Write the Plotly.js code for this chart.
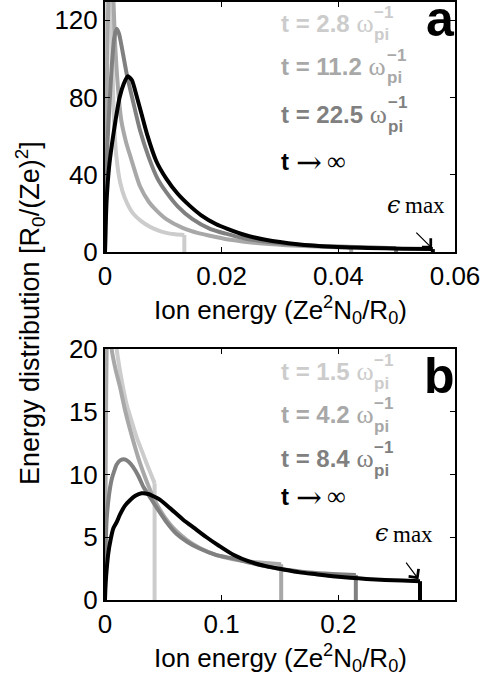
<!DOCTYPE html>
<html>
<head>
<meta charset="utf-8">
<script src="https://cdn.plot.ly/plotly-3.0.1.min.js"></script>
<style>
  html, body { margin: 0; padding: 0; background: #fff; }
  #chart { width: 483px; height: 688px; }
</style>
</head>
<body>
<div id="chart"></div>
<script>
// ---- Panel a: energy spectra at successive times (energy in Ze^2 N0 / R0) ----
const aTimes = ['t = 2.8', 't = 11.2', 't = 22.5'];
const aX1 = [0, 0.0002, 0.0004, 0.0007, 0.0010, 0.0013, 0.0016, 0.0020, 0.0026, 0.0034, 0.0048, 0.0062, 0.0077, 0.0091, 0.0105, 0.0120, 0.0136, 0.0136];
const aY1 = [0, 70, 140, 175, 150, 95, 64, 48, 36, 28, 20, 16, 13.1, 11.2, 9.9, 9.2, 8.8, 0];
const aX2 = [0, 0.0002, 0.0005, 0.0009, 0.0013, 0.0017, 0.0022, 0.0028, 0.0036, 0.0044, 0.0060, 0.0075, 0.0088, 0.0105, 0.0133, 0.0160, 0.0190, 0.0215, 0.0260, 0.0310, 0.0370, 0.0422, 0.0422];
const aY2 = [0, 60, 120, 150, 140, 110, 86, 68, 57, 49, 34, 26, 21.5, 17, 12.5, 9.8, 7.8, 6.3, 4.6, 3.5, 2.7, 2.2, 0];
const aX3 = [0, 0.0001, 0.0004, 0.0008, 0.0012, 0.0016, 0.0020, 0.0024, 0.0030, 0.0038, 0.0048, 0.0060, 0.0075, 0.0090, 0.0105, 0.0125, 0.0150, 0.0180, 0.0207, 0.0240, 0.0280, 0.0330, 0.0400, 0.0460, 0.0499, 0.0499];
const aY3 = [0, 25, 55, 78, 98, 111, 115.5, 113, 104, 91, 78, 63, 49, 38, 31, 23.5, 17, 12, 9.5, 7, 5.2, 3.8, 2.8, 2.3, 2.0, 0];
const aX4 = [0, 0.0001, 0.0003, 0.0007, 0.0012, 0.0018, 0.0025, 0.0032, 0.0039, 0.0046, 0.0054, 0.0063, 0.0072, 0.0088, 0.0105, 0.0125, 0.0145, 0.0165, 0.0190, 0.0210, 0.0240, 0.0275, 0.0330, 0.0390, 0.0450, 0.0510, 0.0562, 0.0562];
const aY4 = [0, 12, 28, 44, 56, 68, 80, 87, 91, 89, 81, 71, 61, 47, 38, 30, 24, 19, 14.5, 12, 8.8, 6.3, 4, 2.7, 2.1, 1.7, 1.5, 0];

// ---- Panel b ----
const bTimes = ['t = 1.5', 't = 4.2', 't = 8.4'];
const bX1 = [0, 0.0005, 0.0015, 0.0030, 0.0060, 0.0100, 0.0145, 0.0185, 0.0230, 0.0270, 0.0315, 0.0356, 0.0395, 0.0425, 0.0425];
const bY1 = [0, 10, 20, 26, 24, 20, 17.4, 15.6, 14.2, 13, 11.9, 10.9, 10.0, 9.3, 0];
const bX2 = [0, 0.0003, 0.0008, 0.0015, 0.0030, 0.0057, 0.0090, 0.0128, 0.0170, 0.0214, 0.0260, 0.0300, 0.0355, 0.0413, 0.0470, 0.0527, 0.0600, 0.0700, 0.0812, 0.0950, 0.1100, 0.1300, 0.1510, 0.1510];
const bY2 = [0, 8, 16, 22, 24, 20, 18.4, 17, 15.2, 13.6, 12.1, 10.9, 9.5, 8.2, 7.2, 6.4, 5.6, 4.8, 4.15, 3.6, 3.25, 3.0, 2.85, 0];
const bX3 = [0, 0.0004, 0.0014, 0.0035, 0.0057, 0.0080, 0.0100, 0.0135, 0.0171, 0.0205, 0.0240, 0.0285, 0.0330, 0.0385, 0.0440, 0.0520, 0.0610, 0.0710, 0.0810, 0.0950, 0.1100, 0.1300, 0.1520, 0.1750, 0.1950, 0.2150, 0.2150];
const bY3 = [0, 3.5, 6.4, 8.4, 9.6, 10.3, 10.8, 11.15, 11.2, 11.0, 10.6, 9.9, 9.0, 8.2, 7.4, 6.3, 5.3, 4.6, 4.1, 3.6, 3.3, 2.85, 2.45, 2.2, 2.08, 2.0, 0];
const bX4 = [0, 0.0003, 0.0009, 0.0028, 0.0050, 0.0071, 0.0100, 0.0128, 0.0170, 0.0214, 0.0260, 0.0313, 0.0370, 0.0420, 0.0470, 0.0560, 0.0670, 0.0770, 0.0870, 0.0980, 0.1100, 0.1240, 0.1380, 0.1520, 0.1670, 0.1810, 0.1950, 0.2100, 0.2240, 0.2400, 0.2550, 0.2700, 0.2700];
const bY4 = [0, 0.9, 1.8, 3.7, 4.9, 5.7, 6.2, 6.8, 7.5, 7.95, 8.3, 8.5, 8.45, 8.25, 8.0, 7.3, 6.4, 5.7, 5.0, 4.3, 3.6, 3.05, 2.7, 2.45, 2.2, 2.05, 1.9, 1.78, 1.68, 1.6, 1.55, 1.5, 0];

// ---- Axis ticks ----
const aXTicks = [0, 0.02, 0.04, 0.06];
const aXTickText = ['0', '0.02', '0.04', '0.06'];
const aYTicks = [0, 40, 80, 120];
const bXTicks = [0, 0.1, 0.2];
const bXTickText = ['0', '0.1', '0.2'];
const bYTicks = [0, 5, 10, 15, 20];

const W = 483, H = 688;
const PX = v => v / W;
const PY = v => 1 - v / H;

const greys = ['#cccccc', '#a8a8a8', '#808080', '#000000'];
const SANS = 'Liberation Sans, Arial, sans-serif';
const SERIF = 'Liberation Serif, Times New Roman, serif';

// smooth body of a spectrum plus its straight cut-off drop at the maximum energy
function spectrum(x, y, color, xa, ya) {
  const n = x.length;
  return [
    { x: x.slice(0, n - 1), y: y.slice(0, n - 1), type: 'scatter', mode: 'lines',
      line: { color: color, width: 4, shape: 'spline', smoothing: 0.6 },
      xaxis: xa, yaxis: ya, hoverinfo: 'skip', showlegend: false },
    { x: x.slice(n - 2), y: y.slice(n - 2), type: 'scatter', mode: 'lines',
      line: { color: color, width: 4 },
      xaxis: xa, yaxis: ya, hoverinfo: 'skip', showlegend: false }
  ];
}

const data = [].concat(
  spectrum(aX1, aY1, greys[0], 'x', 'y'),
  spectrum(aX2, aY2, greys[1], 'x', 'y'),
  spectrum(aX3, aY3, greys[2], 'x', 'y'),
  spectrum(aX4, aY4, greys[3], 'x', 'y'),
  spectrum(bX1, bY1, greys[0], 'x2', 'y2'),
  spectrum(bX2, bY2, greys[1], 'x2', 'y2'),
  spectrum(bX3, bY3, greys[2], 'x2', 'y2'),
  spectrum(bX4, bY4, greys[3], 'x2', 'y2')
);

const tickFont = { family: SANS, size: 26, color: '#000' };
function axis(extra) {
  return Object.assign({
    showline: true, linecolor: '#000', linewidth: 2, mirror: 'ticks',
    ticks: 'inside', ticklen: 5, tickwidth: 1, tickcolor: '#000',
    showgrid: false, zeroline: false, tickfont: tickFont, fixedrange: true
  }, extra);
}

// text measuring for placing stacked super/subscripts
const ctx = document.createElement('canvas').getContext('2d');
function textWidth(str, font) { ctx.font = font; return ctx.measureText(str).width; }

const annotations = [];
function note(text, x, y, opts) {
  annotations.push(Object.assign({
    text: text, xref: 'paper', yref: 'paper', x: PX(x), y: PY(y),
    xanchor: 'left', yanchor: 'middle', showarrow: false, borderpad: 0,
    font: { family: SANS, size: 24, color: '#000' }
  }, opts || {}));
}

function legendBlock(times, baselines, eps) {
  times.forEach((t, i) => {
    const B = baselines[i];
    const c = greys[i];
    const wMain = textWidth(t + ' ', 'bold 24px "Liberation Sans"') +
                  textWidth('ω', '26px "Liberation Serif"');
    note('<b>' + t + ' </b><span style="font-family:Liberation Serif;font-size:26px">ω</span>',
         280, B - 8.5, { font: { family: SANS, size: 24, color: c } });
    note('<b>−1</b>', 280 + wMain + 1, B - 20, { font: { family: SANS, size: 17, color: c } });
    note('<b>pi</b>', 280 + wMain + 1, B + 3, { font: { family: SANS, size: 17, color: c } });
  });
  const B4 = baselines[3];
  note('<b>t</b>', 280, B4 - 8.5, { font: { family: SANS, size: 24, color: '#000' } });
  note('→', 295, B4 - 8, { font: { family: 'DejaVu Serif, serif', size: 31, color: '#000' } });
  note('∞', 326, B4 - 8, { font: { family: SERIF, size: 26, color: '#000' } });
  // ε_max label
  note('<i>ϵ</i>', eps[0], eps[1], { font: { family: 'DejaVu Serif, serif', size: 24, color: '#000' } });
  note('max', eps[0] + 18, eps[1] + 1, { font: { family: SERIF, size: 23, color: '#000' } });
}

legendBlock(aTimes, [32, 75, 123, 170], [386, 205]);
legendBlock(bTimes, [380, 423, 467, 505], [374, 533]);

// panel letters
note('<b>a</b>', 456, 19, { xanchor: 'right', font: { family: SANS, size: 50, color: '#000' } });
note('<b>b</b>', 456, 376, { xanchor: 'right', font: { family: SANS, size: 50, color: '#000' } });

// axis titles
const xTitle = 'Ion energy (Ze<sup>2</sup>N<sub>0</sub>/R<sub>0</sub>)';
note(xTitle, 280, 310, { xanchor: 'center', font: { family: SANS, size: 26, color: '#000' } });
note(xTitle, 280, 658, { xanchor: 'center', font: { family: SANS, size: 26, color: '#000' } });
note('Energy distribution [R<sub>0</sub>/(Ze)<sup>2</sup>]', 30, 313,
     { xanchor: 'center', textangle: -90, font: { family: SANS, size: 27, color: '#000' } });

// arrows pointing at the maximum energy of the final spectrum
annotations.push({
  xref: 'x', yref: 'y', x: aX4[aX4.length - 1], y: aY4[aY4.length - 2],
  ax: -18, ay: -18, showarrow: true, arrowhead: 4, arrowsize: 2, arrowwidth: 1.2,
  arrowcolor: '#000', standoff: 1, text: ''
});
annotations.push({
  xref: 'x2', yref: 'y2', x: bX4[bX4.length - 1], y: bY4[bY4.length - 2],
  ax: -15, ay: -20, showarrow: true, arrowhead: 4, arrowsize: 2, arrowwidth: 1.2,
  arrowcolor: '#000', standoff: 2.5, text: ''
});

const layout = {
  width: W, height: H,
  margin: { l: 0, r: 0, t: 0, b: 0 },
  paper_bgcolor: '#fff', plot_bgcolor: '#fff',
  showlegend: false,
  xaxis: axis({ domain: [PX(105), PX(455)], anchor: 'y', range: [0, 0.06],
                tickvals: aXTicks, ticktext: aXTickText }),
  yaxis: axis({ domain: [PY(252), PY(2)], anchor: 'x', range: [0, 129.4],
                tickvals: aYTicks }),
  xaxis2: axis({ domain: [PX(105), PX(455)], anchor: 'y2', range: [0, 0.3],
                 tickvals: bXTicks, ticktext: bXTickText }),
  yaxis2: axis({ domain: [PY(600), PY(349)], anchor: 'x2', range: [0, 20],
                 tickvals: bYTicks }),
  annotations: annotations
};

Plotly.newPlot('chart', data, layout, { displayModeBar: false, staticPlot: true });
</script>
</body>
</html>
